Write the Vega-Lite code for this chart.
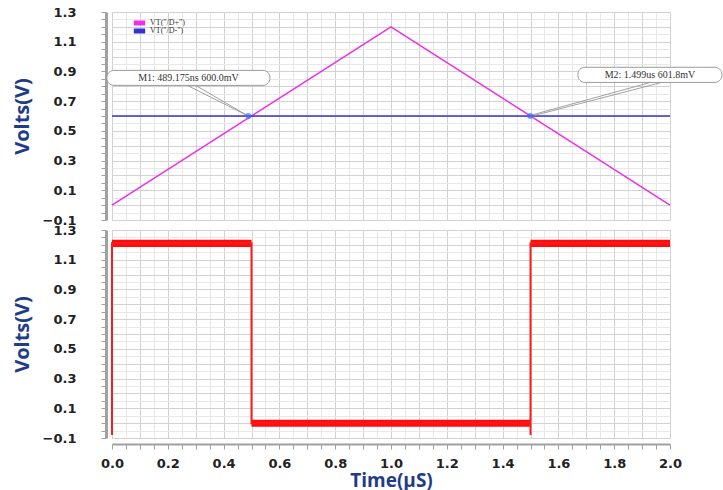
{
  "$schema": "https://vega.github.io/schema/vega-lite/v6.json",
  "padding": {"left": 11, "top": 5, "right": 0, "bottom": 0},
  "background": "white",
  "spacing": 10,
  "bounds": "flush",
  "config": {
    "view": {"stroke": "#cfcfcf"},
    "axis": {
      "labelFont": "DejaVu Sans",
      "labelFontWeight": "bold",
      "labelFontSize": 13,
      "labelColor": "#222222",
      "titleFont": "Open Sans",
      "titleFontWeight": "bold",
      "titleFontSize": 20,
      "titleColor": "#1f3c88",
      "domainColor": "#a0a0a0",
      "tickColor": "#a0a0a0",
      "labelOverlap": false,
      "labelFlush": false
    }
  },
  "datasets": {
    "topLines": [
      {"t": 0, "v": 0.0, "series": "VT(\"/D+\")", "ord": 1},
      {"t": 1, "v": 1.2, "series": "VT(\"/D+\")", "ord": 2},
      {"t": 2, "v": 0.0, "series": "VT(\"/D+\")", "ord": 3},
      {"t": 0, "v": 0.6, "series": "VT(\"/D-\")", "ord": 1},
      {"t": 2, "v": 0.6, "series": "VT(\"/D-\")", "ord": 2}
    ],
    "leaders": [
      {"t": 0.27, "v": 0.806, "t2": 0.485, "v2": 0.603},
      {"t": 0.30, "v": 0.806, "t2": 0.49, "v2": 0.598},
      {"t": 1.93, "v": 0.826, "t2": 1.497, "v2": 0.603},
      {"t": 1.97, "v": 0.826, "t2": 1.502, "v2": 0.598}
    ],
    "boxes": [
      {"t": -0.018, "t2": 0.566, "v": 0.806, "v2": 0.907, "label": "M1: 489.175ns 600.0mV", "tc": 0.274, "vc": 0.857},
      {"t": 1.67, "t2": 2.186, "v": 0.826, "v2": 0.928, "label": "M2: 1.499us 601.8mV", "tc": 1.928, "vc": 0.877}
    ],
    "markers": [
      {"t": 0.489, "v": 0.6},
      {"t": 1.499, "v": 0.6}
    ],
    "bands": [
      {"t": 0, "t2": 0.5, "v": 1.185, "v2": 1.235},
      {"t": 0.5, "t2": 1.5, "v": -0.025, "v2": 0.022},
      {"t": 1.5, "t2": 2, "v": 1.185, "v2": 1.235}
    ],
    "square": [
      {"t": 0, "v": -0.08, "ord": 1},
      {"t": 0, "v": 1.21, "ord": 2},
      {"t": 0.5, "v": 1.21, "ord": 3},
      {"t": 0.5, "v": 0.0, "ord": 4},
      {"t": 1.5, "v": 0.0, "ord": 5},
      {"t": 1.5, "v": -0.08, "ord": 6},
      {"t": 1.5, "v": 1.21, "ord": 7},
      {"t": 2, "v": 1.21, "ord": 8}
    ]
  },
  "vconcat": [
    {
      "width": 558,
      "height": 208,
      "encoding": {
        "x": {
          "field": "t", "type": "quantitative",
          "scale": {"domain": [0, 2], "nice": false, "zero": false},
          "axis": {
            "values": [0,0.05,0.1,0.15,0.2,0.25,0.3,0.35,0.4,0.45,0.5,0.55,0.6,0.65,0.7,0.75,0.8,0.85,0.9,0.95,1,1.05,1.1,1.15,1.2,1.25,1.3,1.35,1.4,1.45,1.5,1.55,1.6,1.65,1.7,1.75,1.8,1.85,1.9,1.95,2],
            "labels": false, "ticks": false, "domain": false, "title": null,
            "grid": true,
            "gridColor": {"condition": {"test": "abs(datum.value*10 - round(datum.value*10)) < 0.001", "value": "#d2d2d2"}, "value": "#e8e8e8"}
          }
        },
        "y": {
          "field": "v", "type": "quantitative",
          "scale": {"domain": [-0.1, 1.3], "nice": false, "zero": false},
          "axis": {
            "values": [-0.1,-0.05,0,0.05,0.1,0.15,0.2,0.25,0.3,0.35,0.4,0.45,0.5,0.55,0.6,0.65,0.7,0.75,0.8,0.85,0.9,0.95,1,1.05,1.1,1.15,1.2,1.25,1.3],
            "labelExpr": "abs((datum.value+0.1)*5 - round((datum.value+0.1)*5)) < 0.001 ? format(datum.value, '.1f') : ''",
            "title": "Volts(V)",
            "titlePadding": 10,
            "offset": 6,
            "tickSize": 5,
            "labelPadding": 25,
            "domainWidth": 3,
            "grid": true,
            "gridColor": {"condition": {"test": "abs(datum.value*10 - round(datum.value*10)) < 0.001", "value": "#d2d2d2"}, "value": "#e8e8e8"}
          }
        }
      },
      "layer": [
        {
          "data": {"name": "topLines"},
          "mark": {"type": "line", "strokeWidth": 1.5},
          "encoding": {
            "color": {
              "field": "series", "type": "nominal",
              "scale": {"domain": ["VT(\"/D+\")", "VT(\"/D-\")"], "range": ["#ee2ee8", "#3434cc"]},
              "legend": {
                "orient": "none", "legendX": 19, "legendY": 7, "title": null,
                "symbolType": "stroke", "symbolStrokeWidth": 5, "symbolSize": 130,
                "labelFont": "Liberation Serif", "labelFontSize": 8, "labelColor": "#333333",
                "rowPadding": 0, "padding": 0, "labelOffset": 2, "clipHeight": 8
              }
            },
            "detail": {"field": "series"},
            "order": {"field": "ord"}
          }
        },
        {
          "data": {"name": "leaders"},
          "mark": {"type": "rule", "color": "#8a8a8a", "strokeWidth": 0.8},
          "encoding": {"x2": {"field": "t2"}, "y2": {"field": "v2"}}
        },
        {
          "data": {"name": "boxes"},
          "mark": {"type": "rect", "fill": "white", "stroke": "#9a9a9a", "strokeWidth": 1, "cornerRadius": 7},
          "encoding": {"x2": {"field": "t2"}, "y2": {"field": "v2"}}
        },
        {
          "data": {"name": "boxes"},
          "mark": {"type": "text", "font": "Liberation Serif", "fontSize": 10, "color": "#333333"},
          "encoding": {
            "x": {"field": "tc", "type": "quantitative"},
            "y": {"field": "vc", "type": "quantitative"},
            "text": {"field": "label"}
          }
        },
        {
          "data": {"name": "markers"},
          "mark": {"type": "point", "filled": true, "size": 35, "color": "#3b6cff", "opacity": 0.7},
          "encoding": {}
        }
      ]
    },
    {
      "width": 558,
      "height": 208,
      "encoding": {
        "x": {
          "field": "t", "type": "quantitative",
          "scale": {"domain": [0, 2], "nice": false, "zero": false},
          "axis": {
            "values": [0,0.05,0.1,0.15,0.2,0.25,0.3,0.35,0.4,0.45,0.5,0.55,0.6,0.65,0.7,0.75,0.8,0.85,0.9,0.95,1,1.05,1.1,1.15,1.2,1.25,1.3,1.35,1.4,1.45,1.5,1.55,1.6,1.65,1.7,1.75,1.8,1.85,1.9,1.95,2],
            "labelExpr": "abs(datum.value*5 - round(datum.value*5)) < 0.001 ? format(datum.value, '.1f') : ''",
            "title": "Time(µS)",
            "titleFontSize": 19,
            "titlePadding": 1,
            "offset": 6,
            "tickSize": 5,
            "labelPadding": 8,
            "domainWidth": 2,
            "grid": true,
            "gridColor": {"condition": {"test": "abs(datum.value*10 - round(datum.value*10)) < 0.001", "value": "#d2d2d2"}, "value": "#e8e8e8"}
          }
        },
        "y": {
          "field": "v", "type": "quantitative",
          "scale": {"domain": [-0.1, 1.3], "nice": false, "zero": false},
          "axis": {
            "values": [-0.1,-0.05,0,0.05,0.1,0.15,0.2,0.25,0.3,0.35,0.4,0.45,0.5,0.55,0.6,0.65,0.7,0.75,0.8,0.85,0.9,0.95,1,1.05,1.1,1.15,1.2,1.25,1.3],
            "labelExpr": "abs((datum.value+0.1)*5 - round((datum.value+0.1)*5)) < 0.001 ? format(datum.value, '.1f') : ''",
            "title": "Volts(V)",
            "titlePadding": 10,
            "offset": 6,
            "tickSize": 5,
            "labelPadding": 25,
            "domainWidth": 3,
            "grid": true,
            "gridColor": {"condition": {"test": "abs(datum.value*10 - round(datum.value*10)) < 0.001", "value": "#d2d2d2"}, "value": "#e8e8e8"}
          }
        }
      },
      "layer": [
        {
          "data": {"name": "bands"},
          "mark": {"type": "rect", "color": "#ff0d0d"},
          "encoding": {"x2": {"field": "t2"}, "y2": {"field": "v2"}}
        },
        {
          "data": {"name": "square"},
          "mark": {"type": "line", "color": "#ff1a1a", "strokeWidth": 2},
          "encoding": {"order": {"field": "ord"}}
        }
      ]
    }
  ]
}
